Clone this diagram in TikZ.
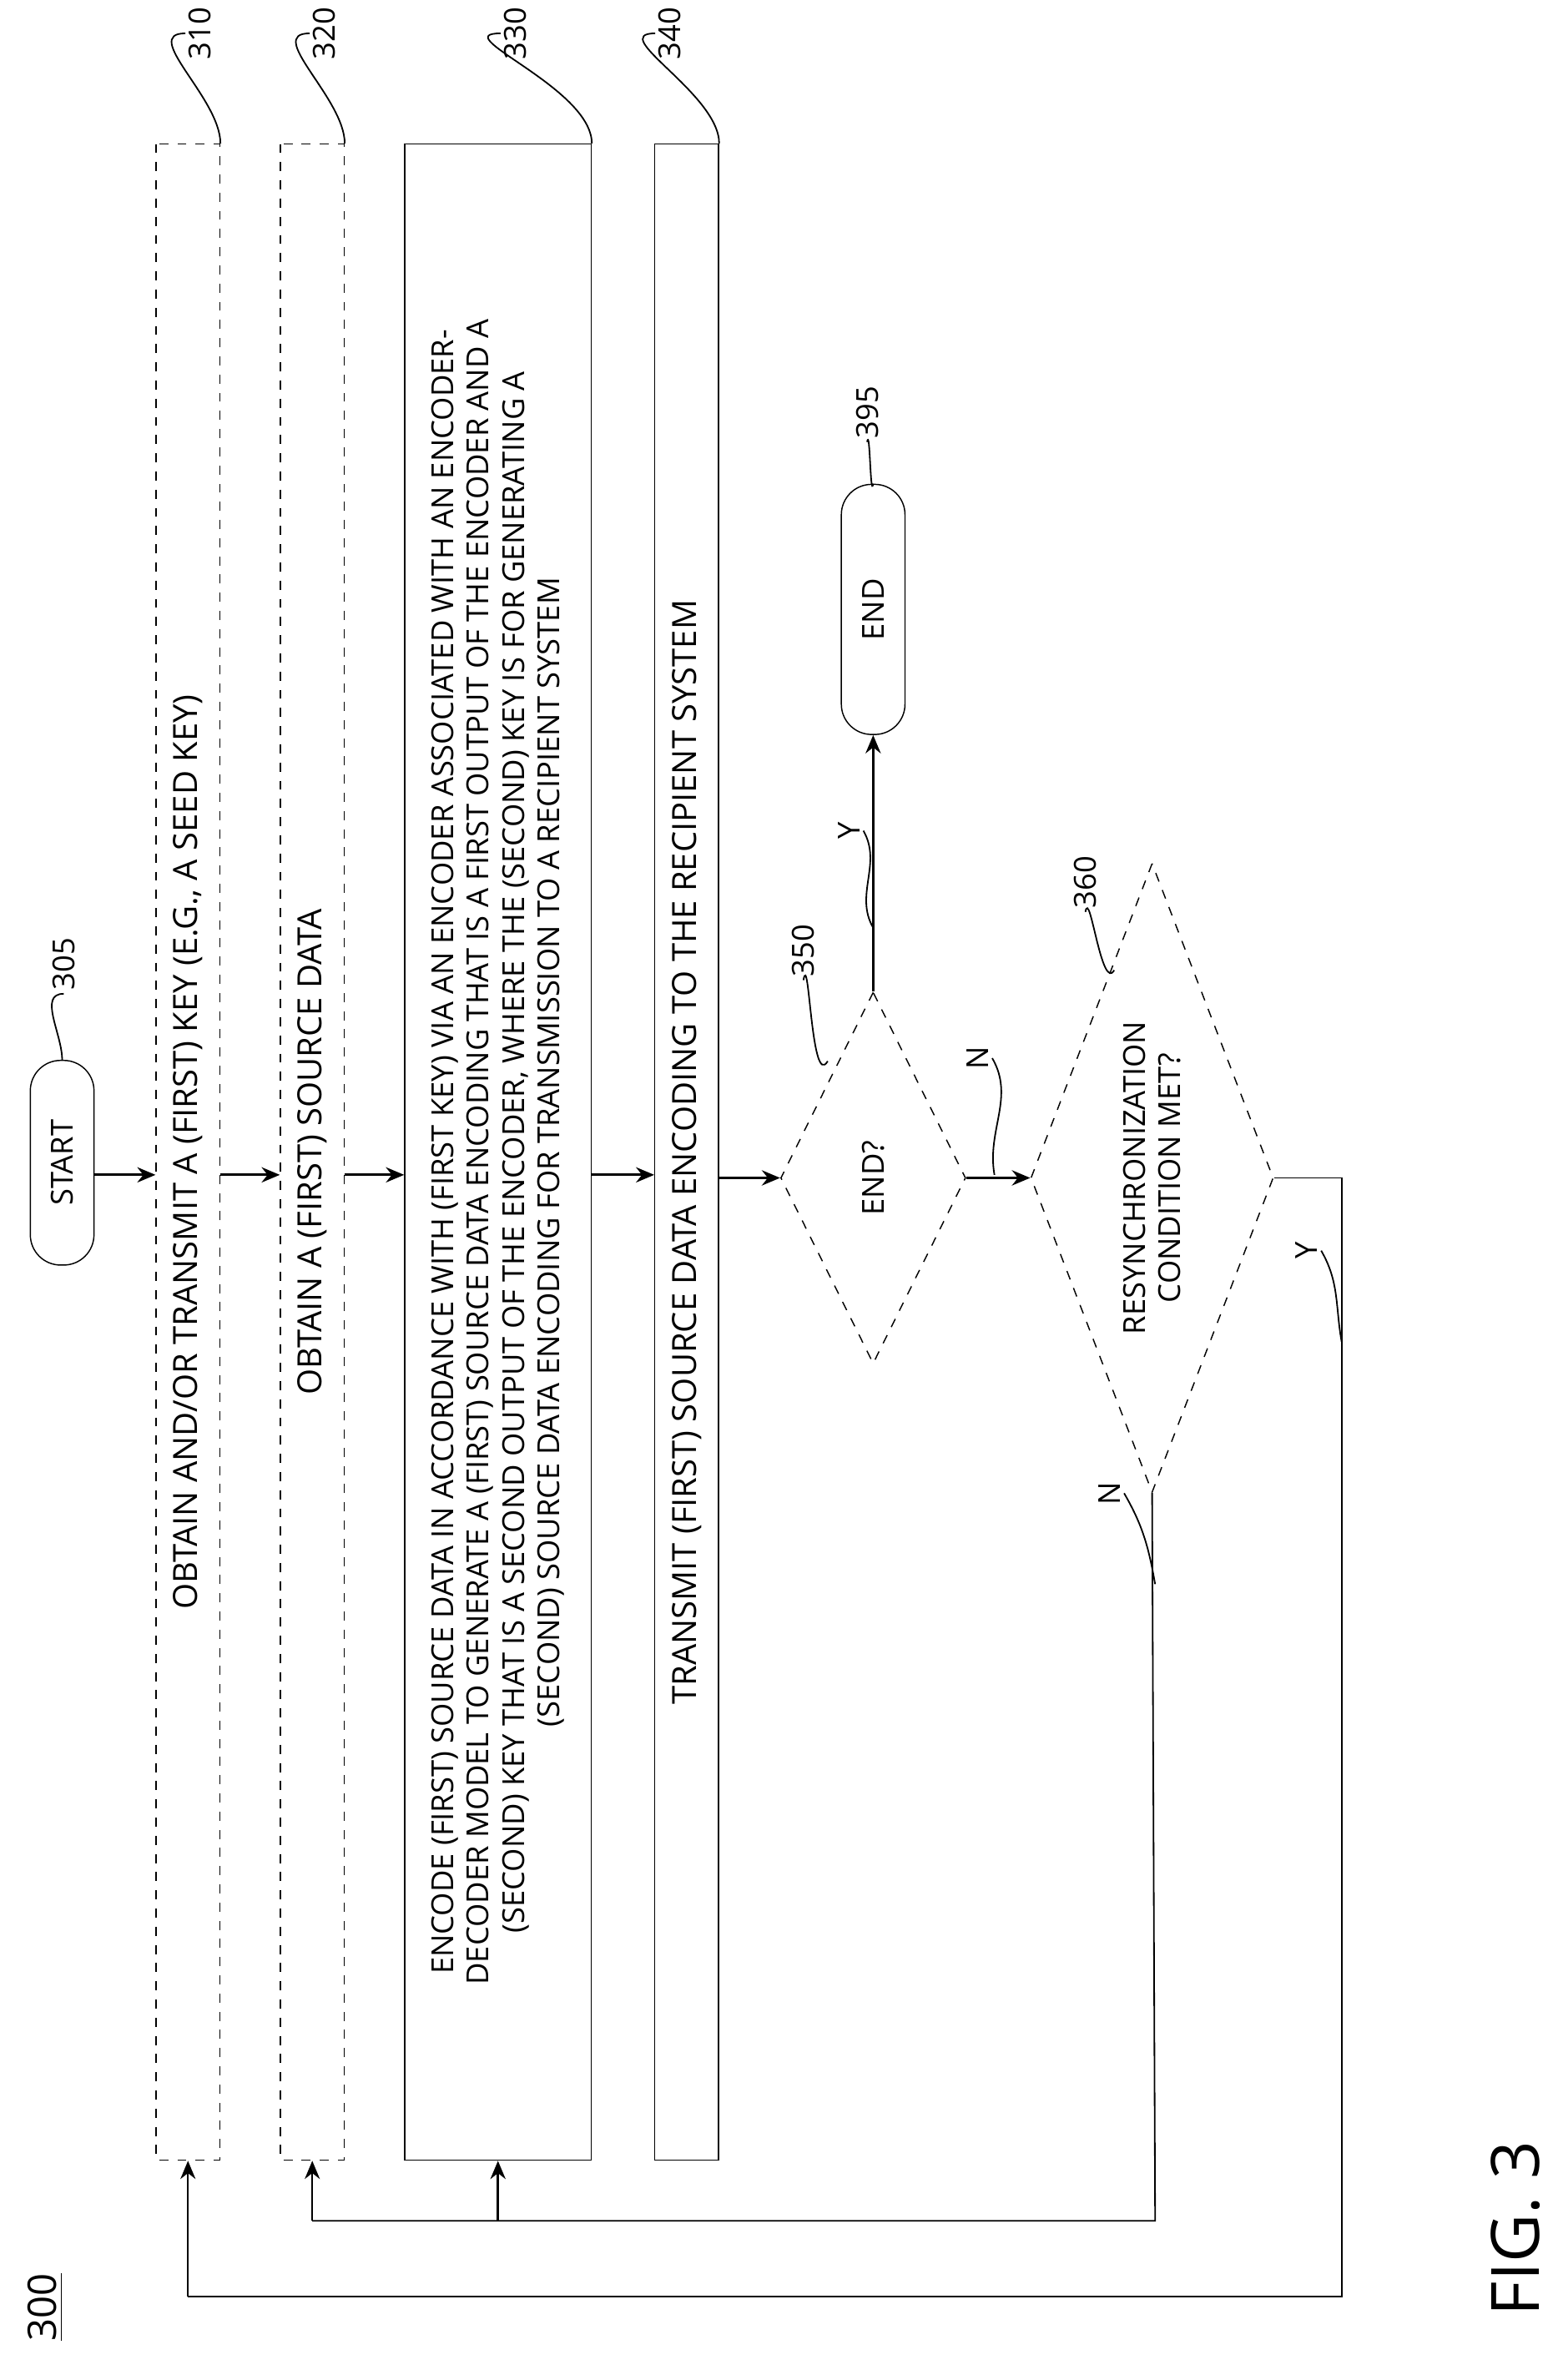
\documentclass[tikz,border=0pt]{standalone}
\usepackage{fontspec}
\setmainfont{Open Sans}
\usetikzlibrary{shapes.geometric,arrows.meta}
\begin{document}
\newcommand{\fs}{\fontsize{10}{11.6}\selectfont}
\newcommand{\fsb}{\fontsize{11}{13}\selectfont}
\begin{tikzpicture}[x=0.5pt,y=-0.5pt,
  box/.style={draw, rotate=90, minimum width=665pt, minimum height=21pt, inner sep=0pt, align=center, font=\fs},
  dbox/.style={box, dashed, font=\fsb},
  term/.style={draw, rotate=90, rounded corners=10pt, minimum height=21pt, inner sep=0pt, font=\fs},
  dia/.style={draw, dashed, diamond, rotate=90, inner sep=0pt},
  arr/.style={-{Stealth[length=6pt,width=5pt]}, line width=0.9pt},
  tarr/.style={-{Stealth[length=6pt,width=5pt]}, line width=0.5pt},
  ln/.style={line width=0.5pt},
  lab/.style={rotate=90, font=\fs, inner sep=1pt, align=center}]
\useasboundingbox (0,0) rectangle (1024,1570);
\coordinate (yl) at (0,775);
\node[term, minimum width=67.5pt] (start) at (41,767) {START};
\node[dbox] (b310) at (124,760) {OBTAIN AND/OR TRANSMIT A (FIRST) KEY (E.G., A SEED KEY)};
\node[dbox] (b320) at (206,760) {OBTAIN A (FIRST) SOURCE DATA};
\node[box, minimum height=61.5pt] (b330) at (328.5,760) {ENCODE (FIRST) SOURCE DATA IN ACCORDANCE WITH (FIRST KEY) VIA AN ENCODER ASSOCIATED WITH AN ENCODER-\\DECODER MODEL TO GENERATE A (FIRST) SOURCE DATA ENCODING THAT IS A FIRST OUTPUT OF THE ENCODER AND A\\(SECOND) KEY THAT IS A SECOND OUTPUT OF THE ENCODER, WHERE THE (SECOND) KEY IS FOR GENERATING A\\(SECOND) SOURCE DATA ENCODING FOR TRANSMISSION TO A RECIPIENT SYSTEM};
\node[box, font=\fsb] (b340) at (453,760) {TRANSMIT (FIRST) SOURCE DATA ENCODING TO THE RECIPIENT SYSTEM};
\node[dia, minimum width=122.5pt, minimum height=61pt] (d350) at (576,777) {};
\node[lab] (t350) at (d350.center) {END?};
\node[dia, minimum width=207.5pt, minimum height=80pt] (d360) at (760,777) {};
\node[lab] (t360) at (d360.center) {RESYNCHRONIZATION\\CONDITION MET?};
\node[term, minimum width=82.5pt] (end) at (576,402) {END};
% flow
\draw[arr] (start.south |- yl) -- (b310.north |- yl);
\draw[arr] (b310.south |- yl) -- (b320.north |- yl);
\draw[arr] (b320.south |- yl) -- (b330.north |- yl);
\draw[arr] (b330.south |- yl) -- (b340.north |- yl);
\draw[arr] (b340.south |- d350.north) -- (d350.north);
\draw[arr] (d350.south) -- (d360.north);
\draw[arr] (d350.east) -- (end.west);
\coordinate (c1) at (885,777);
\coordinate (c2) at (885,1515);
\coordinate (c3) at (124,1515);
\draw[ln] (d360.south) -- (c1) -- (c2) -- (c3);
\draw[tarr] (c3) -- (b310.west);
\coordinate (c4) at (762,1465);
\coordinate (c5) at (206,1465);
\coordinate (c6) at (328.5,1465);
\draw[ln] (d360.west) -- (c4) -- (c5);
\draw[tarr] (c5) -- (b320.west);
\draw[arr] (c6) -- (b330.west);
% branch labels
\node[lab] (ln1) at (645,698) {N};
\draw[ln] (ln1.south) to[out=-60,in=100] (656,775);
\node[lab] (ly1) at (560,548) {Y};
\draw[ln] (ly1.south) to[out=-60,in=120] (576,612);
\node[lab] (ly2) at (862,825) {Y};
\draw[ln] (ly2.south) to[out=-60,in=100] (885,885);
\node[lab] (ln2) at (732,985) {N};
\draw[ln] (ln2.south) to[out=-60,in=100] (762,1045);
% reference numbers
\node[lab] (r305) at (42,636) {305};
\draw[ln] (r305.west) to[out=180,in=90] (start.east);
\node[lab] (r310) at (132,22) {310};
\draw[ln] (r310.north) to[out=180,in=90] (b310.south east);
\node[lab] (r320) at (214,22) {320};
\draw[ln] (r320.north) to[out=180,in=90] (b320.south east);
\node[lab] (r330) at (340,22) {330};
\draw[ln] (r330.north) to[out=180,in=90] (b330.south east);
\node[lab] (r340) at (442,22) {340};
\draw[ln] (r340.north) to[out=180,in=90] (b340.south east);
\node[lab] (r350) at (530,627) {350};
\draw[ln] (r350.west) to[out=80,in=-120] (546,700);
\node[lab] (r360) at (716,582) {360};
\draw[ln] (r360.west) to[out=80,in=-120] (735,640);
\node[lab] (r395) at (572,272) {395};
\draw[ln] (r395.west) to[out=80,in=-100] (end.east);
\node[lab, font=\fontsize{13}{15}\selectfont] (n300) at (30,1522) {\underline{300}};
\node[lab, font=\fontsize{22}{26}\selectfont] (fig) at (1000,1470) {FIG. 3};
\end{tikzpicture}
\end{document}
